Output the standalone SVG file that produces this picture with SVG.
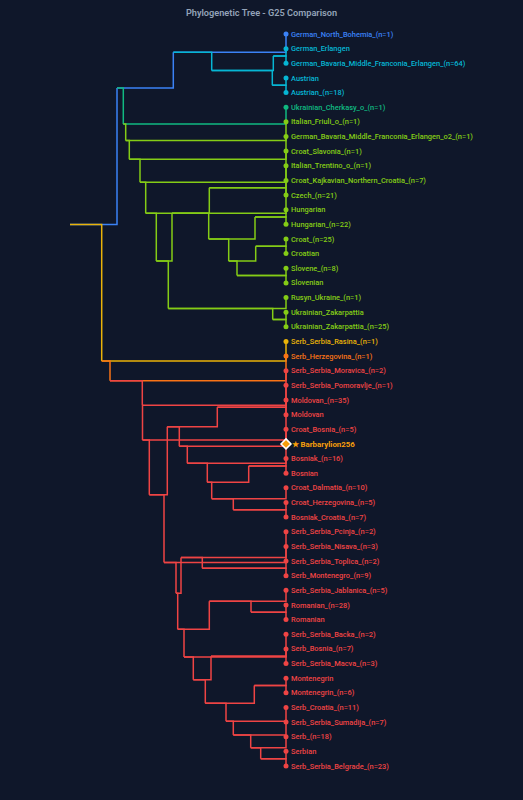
<svg xmlns="http://www.w3.org/2000/svg" width="523" height="800" viewBox="0 0 523 800">
<style>
.bg{fill:#0f172a}
.title{font-family:Roboto,"Liberation Sans",sans-serif;font-size:9.2px;font-weight:600;fill:#94a3b8}
.links path{fill:none;stroke-width:1.5}
.lb{stroke:#3b82f6}.lc{stroke:#06b6d4}.lt{stroke:#10b981}.lg{stroke:#84cc16}.ly{stroke:#eab308}.lo{stroke:#f97316}.lr{stroke:#ef4444}
.leaf text{font-family:Roboto,"Liberation Sans",sans-serif;font-size:7.45px;font-weight:500}
.cb{fill:#3b82f6}.cc{fill:#06b6d4}.ct{fill:#10b981}.cg{fill:#84cc16}.cy{fill:#eab308}.co{fill:#f97316}.cr{fill:#ef4444}
.me text{font-family:Roboto,"Liberation Sans",sans-serif;font-size:7.9px;font-weight:700;fill:#f59e0b}
</style>
<rect class="bg" x="0" y="0" width="523" height="800"/>
<text class="title" x="261.5" y="16" text-anchor="middle">Phylogenetic Tree - G25 Comparison</text>
<g id="connectors" class="links">
<path class="lb" d="M70,224.59 H117 V88.1"/>
<path class="lb" d="M117,88.1 H173.3 V52.3"/>
<path class="lb" d="M173.3,52.3 H286 V34"/>
<path class="lc" d="M173.3,52.3 H211.7 V70.6"/>
<path class="lc" d="M211.7,70.6 H273.3 V55.96"/>
<path class="lc" d="M211.7,70.6 H272.3 V85.24"/>
<path class="lc" d="M273.3,55.96 H286 V48.64"/>
<path class="lc" d="M273.3,55.96 H286 V63.28"/>
<path class="lc" d="M272.3,85.24 H286 V77.92"/>
<path class="lc" d="M272.3,85.24 H286 V92.56"/>
<path class="lt" d="M117,88.1 H123.3 V123.9"/>
<path class="lt" d="M123.3,123.9 H286 V107.2"/>
<path class="lg" d="M123.3,123.9 H125.7 V140.6"/>
<path class="lg" d="M125.7,140.6 H286 V121.84"/>
<path class="lg" d="M125.7,140.6 H129.3 V159.36"/>
<path class="lg" d="M129.3,159.36 H286 V136.48"/>
<path class="lg" d="M129.3,159.36 H140 V182.23"/>
<path class="lg" d="M140,182.23 H286 V151.12"/>
<path class="lg" d="M140,182.23 H145.7 V213.34"/>
<path class="lg" d="M145.7,213.34 H286 V165.76"/>
<path class="lg" d="M145.7,213.34 H156.3 V260.92"/>
<path class="lg" d="M156.3,260.92 H172 V213.34"/>
<path class="lg" d="M156.3,260.92 H168.3 V308.5"/>
<path class="lg" d="M172,213.34 H209.3 V187.72"/>
<path class="lg" d="M172,213.34 H208.7 V238.96"/>
<path class="lg" d="M209.3,187.72 H286 V180.4"/>
<path class="lg" d="M209.3,187.72 H286 V195.04"/>
<path class="lg" d="M208.7,238.96 H255 V217"/>
<path class="lg" d="M208.7,238.96 H228.7 V260.92"/>
<path class="lg" d="M255,217 H286 V209.68"/>
<path class="lg" d="M255,217 H286 V224.32"/>
<path class="lg" d="M228.7,260.92 H255.7 V246.28"/>
<path class="lg" d="M228.7,260.92 H237 V275.56"/>
<path class="lg" d="M255.7,246.28 H286 V238.96"/>
<path class="lg" d="M255.7,246.28 H286 V253.6"/>
<path class="lg" d="M237,275.56 H286 V268.24"/>
<path class="lg" d="M237,275.56 H286 V282.88"/>
<path class="lg" d="M168.3,308.5 H286 V297.52"/>
<path class="lg" d="M168.3,308.5 H272.7 V319.48"/>
<path class="lg" d="M272.7,319.48 H286 V312.16"/>
<path class="lg" d="M272.7,319.48 H286 V326.8"/>
<path class="ly" d="M70,224.59 H101.7 V361.08"/>
<path class="ly" d="M101.7,361.08 H286 V341.44"/>
<path class="lo" d="M101.7,361.08 H110 V380.72"/>
<path class="lo" d="M110,380.72 H286 V356.08"/>
<path class="lr" d="M110,380.72 H142.3 V405.36"/>
<path class="lr" d="M142.3,405.36 H286 V370.72"/>
<path class="lr" d="M142.3,405.36 H142.5 V440"/>
<path class="lr" d="M142.5,440 H286 V385.36"/>
<path class="lr" d="M142.5,440 H149.3 V494.64"/>
<path class="lr" d="M149.3,494.64 H167.3 V426.77"/>
<path class="lr" d="M149.3,494.64 H164 V562.51"/>
<path class="lr" d="M167.3,426.77 H217.3 V407.32"/>
<path class="lr" d="M217.3,407.32 H286 V400"/>
<path class="lr" d="M217.3,407.32 H286 V414.64"/>
<path class="lr" d="M167.3,426.77 H179.3 V446.21"/>
<path class="lr" d="M179.3,446.21 H286 V429.28"/>
<path class="lr" d="M179.3,446.21 H187.3 V463.14"/>
<path class="lr" d="M187.3,463.14 H286 V443.92"/>
<path class="lr" d="M187.3,463.14 H207.3 V482.35"/>
<path class="lr" d="M207.3,482.35 H248.7 V465.88"/>
<path class="lr" d="M248.7,465.88 H286 V458.56"/>
<path class="lr" d="M248.7,465.88 H286 V473.2"/>
<path class="lr" d="M207.3,482.35 H211.7 V498.82"/>
<path class="lr" d="M211.7,498.82 H286 V487.84"/>
<path class="lr" d="M211.7,498.82 H233.3 V509.8"/>
<path class="lr" d="M233.3,509.8 H286 V502.48"/>
<path class="lr" d="M233.3,509.8 H286 V517.12"/>
<path class="lr" d="M164,562.51 H286 V531.76"/>
<path class="lr" d="M164,562.51 H176 V593.27"/>
<path class="lr" d="M176,593.27 H181 V557.38"/>
<path class="lr" d="M176,593.27 H177.7 V629.15"/>
<path class="lr" d="M181,557.38 H286 V546.4"/>
<path class="lr" d="M181,557.38 H202.3 V568.36"/>
<path class="lr" d="M202.3,568.36 H286 V561.04"/>
<path class="lr" d="M202.3,568.36 H286 V575.68"/>
<path class="lr" d="M177.7,629.15 H209.3 V601.3"/>
<path class="lr" d="M177.7,629.15 H184 V657"/>
<path class="lr" d="M209.3,601.3 H286 V590.32"/>
<path class="lr" d="M209.3,601.3 H251 V612.28"/>
<path class="lr" d="M251,612.28 H286 V604.96"/>
<path class="lr" d="M251,612.28 H286 V619.6"/>
<path class="lr" d="M184,657 H286 V634.24"/>
<path class="lr" d="M184,657 H193.3 V679.76"/>
<path class="lr" d="M193.3,679.76 H211 V656.2"/>
<path class="lr" d="M193.3,679.76 H205.3 V703.32"/>
<path class="lr" d="M211,656.2 H286 V648.88"/>
<path class="lr" d="M211,656.2 H286 V663.52"/>
<path class="lr" d="M205.3,703.32 H254.3 V685.48"/>
<path class="lr" d="M205.3,703.32 H226 V721.17"/>
<path class="lr" d="M254.3,685.48 H286 V678.16"/>
<path class="lr" d="M254.3,685.48 H286 V692.8"/>
<path class="lr" d="M226,721.17 H286 V707.44"/>
<path class="lr" d="M226,721.17 H233.3 V734.89"/>
<path class="lr" d="M233.3,734.89 H286 V722.08"/>
<path class="lr" d="M233.3,734.89 H250.7 V747.7"/>
<path class="lr" d="M250.7,747.7 H286 V736.72"/>
<path class="lr" d="M250.7,747.7 H260.7 V758.68"/>
<path class="lr" d="M260.7,758.68 H286 V751.36"/>
<path class="lr" d="M260.7,758.68 H286 V766"/>
</g>
<g id="leaves">
<g id="n01" class="leaf cb"><circle cx="286" cy="34" r="2.5"/><text x="291" y="34" dy="0.35em">German_North_Bohemia_(n=1)</text></g>
<g id="n02" class="leaf cc"><circle cx="286" cy="48.64" r="2.5"/><text x="291" y="48.64" dy="0.35em">German_Erlangen</text></g>
<g id="n03" class="leaf cc"><circle cx="286" cy="63.28" r="2.5"/><text x="291" y="63.28" dy="0.35em">German_Bavaria_Middle_Franconia_Erlangen_(n=64)</text></g>
<g id="n04" class="leaf cc"><circle cx="286" cy="77.92" r="2.5"/><text x="291" y="77.92" dy="0.35em">Austrian</text></g>
<g id="n05" class="leaf cc"><circle cx="286" cy="92.56" r="2.5"/><text x="291" y="92.56" dy="0.35em">Austrian_(n=18)</text></g>
<g id="n06" class="leaf ct"><circle cx="286" cy="107.2" r="2.5"/><text x="291" y="107.2" dy="0.35em">Ukrainian_Cherkasy_o_(n=1)</text></g>
<g id="n07" class="leaf cg"><circle cx="286" cy="121.84" r="2.5"/><text x="291" y="121.84" dy="0.35em">Italian_Friuli_o_(n=1)</text></g>
<g id="n08" class="leaf cg"><circle cx="286" cy="136.48" r="2.5"/><text x="291" y="136.48" dy="0.35em">German_Bavaria_Middle_Franconia_Erlangen_o2_(n=1)</text></g>
<g id="n09" class="leaf cg"><circle cx="286" cy="151.12" r="2.5"/><text x="291" y="151.12" dy="0.35em">Croat_Slavonia_(n=1)</text></g>
<g id="n10" class="leaf cg"><circle cx="286" cy="165.76" r="2.5"/><text x="291" y="165.76" dy="0.35em">Italian_Trentino_o_(n=1)</text></g>
<g id="n11" class="leaf cg"><circle cx="286" cy="180.4" r="2.5"/><text x="291" y="180.4" dy="0.35em">Croat_Kajkavian_Northern_Croatia_(n=7)</text></g>
<g id="n12" class="leaf cg"><circle cx="286" cy="195.04" r="2.5"/><text x="291" y="195.04" dy="0.35em">Czech_(n=21)</text></g>
<g id="n13" class="leaf cg"><circle cx="286" cy="209.68" r="2.5"/><text x="291" y="209.68" dy="0.35em">Hungarian</text></g>
<g id="n14" class="leaf cg"><circle cx="286" cy="224.32" r="2.5"/><text x="291" y="224.32" dy="0.35em">Hungarian_(n=22)</text></g>
<g id="n15" class="leaf cg"><circle cx="286" cy="238.96" r="2.5"/><text x="291" y="238.96" dy="0.35em">Croat_(n=25)</text></g>
<g id="n16" class="leaf cg"><circle cx="286" cy="253.6" r="2.5"/><text x="291" y="253.6" dy="0.35em">Croatian</text></g>
<g id="n17" class="leaf cg"><circle cx="286" cy="268.24" r="2.5"/><text x="291" y="268.24" dy="0.35em">Slovene_(n=8)</text></g>
<g id="n18" class="leaf cg"><circle cx="286" cy="282.88" r="2.5"/><text x="291" y="282.88" dy="0.35em">Slovenian</text></g>
<g id="n19" class="leaf cg"><circle cx="286" cy="297.52" r="2.5"/><text x="291" y="297.52" dy="0.35em">Rusyn_Ukraine_(n=1)</text></g>
<g id="n20" class="leaf cg"><circle cx="286" cy="312.16" r="2.5"/><text x="291" y="312.16" dy="0.35em">Ukrainian_Zakarpattia</text></g>
<g id="n21" class="leaf cg"><circle cx="286" cy="326.8" r="2.5"/><text x="291" y="326.8" dy="0.35em">Ukrainian_Zakarpattia_(n=25)</text></g>
<g id="n22" class="leaf cy"><circle cx="286" cy="341.44" r="2.5"/><text x="291" y="341.44" dy="0.35em">Serb_Serbia_Rasina_(n=1)</text></g>
<g id="n23" class="leaf co"><circle cx="286" cy="356.08" r="2.5"/><text x="291" y="356.08" dy="0.35em">Serb_Herzegovina_(n=1)</text></g>
<g id="n24" class="leaf cr"><circle cx="286" cy="370.72" r="2.5"/><text x="291" y="370.72" dy="0.35em">Serb_Serbia_Moravica_(n=2)</text></g>
<g id="n25" class="leaf cr"><circle cx="286" cy="385.36" r="2.5"/><text x="291" y="385.36" dy="0.35em">Serb_Serbia_Pomoravlje_(n=1)</text></g>
<g id="n26" class="leaf cr"><circle cx="286" cy="400" r="2.5"/><text x="291" y="400" dy="0.35em">Moldovan_(n=35)</text></g>
<g id="n27" class="leaf cr"><circle cx="286" cy="414.64" r="2.5"/><text x="291" y="414.64" dy="0.35em">Moldovan</text></g>
<g id="n28" class="leaf cr"><circle cx="286" cy="429.28" r="2.5"/><text x="291" y="429.28" dy="0.35em">Croat_Bosnia_(n=5)</text></g>
<g id="n29" class="leaf me"><path d="M286,438.9 L291,443.92 L286,448.9 L281,443.92 Z" fill="#f59e0b" stroke="#ffffff" stroke-width="1.5"/><text x="291.5" y="443.92" dy="0.35em">★ Barbarylion256</text></g>
<g id="n30" class="leaf cr"><circle cx="286" cy="458.56" r="2.5"/><text x="291" y="458.56" dy="0.35em">Bosniak_(n=16)</text></g>
<g id="n31" class="leaf cr"><circle cx="286" cy="473.2" r="2.5"/><text x="291" y="473.2" dy="0.35em">Bosnian</text></g>
<g id="n32" class="leaf cr"><circle cx="286" cy="487.84" r="2.5"/><text x="291" y="487.84" dy="0.35em">Croat_Dalmatia_(n=10)</text></g>
<g id="n33" class="leaf cr"><circle cx="286" cy="502.48" r="2.5"/><text x="291" y="502.48" dy="0.35em">Croat_Herzegovina_(n=5)</text></g>
<g id="n34" class="leaf cr"><circle cx="286" cy="517.12" r="2.5"/><text x="291" y="517.12" dy="0.35em">Bosniak_Croatia_(n=7)</text></g>
<g id="n35" class="leaf cr"><circle cx="286" cy="531.76" r="2.5"/><text x="291" y="531.76" dy="0.35em">Serb_Serbia_Pcinja_(n=2)</text></g>
<g id="n36" class="leaf cr"><circle cx="286" cy="546.4" r="2.5"/><text x="291" y="546.4" dy="0.35em">Serb_Serbia_Nisava_(n=3)</text></g>
<g id="n37" class="leaf cr"><circle cx="286" cy="561.04" r="2.5"/><text x="291" y="561.04" dy="0.35em">Serb_Serbia_Toplica_(n=2)</text></g>
<g id="n38" class="leaf cr"><circle cx="286" cy="575.68" r="2.5"/><text x="291" y="575.68" dy="0.35em">Serb_Montenegro_(n=9)</text></g>
<g id="n39" class="leaf cr"><circle cx="286" cy="590.32" r="2.5"/><text x="291" y="590.32" dy="0.35em">Serb_Serbia_Jablanica_(n=5)</text></g>
<g id="n40" class="leaf cr"><circle cx="286" cy="604.96" r="2.5"/><text x="291" y="604.96" dy="0.35em">Romanian_(n=28)</text></g>
<g id="n41" class="leaf cr"><circle cx="286" cy="619.6" r="2.5"/><text x="291" y="619.6" dy="0.35em">Romanian</text></g>
<g id="n42" class="leaf cr"><circle cx="286" cy="634.24" r="2.5"/><text x="291" y="634.24" dy="0.35em">Serb_Serbia_Backa_(n=2)</text></g>
<g id="n43" class="leaf cr"><circle cx="286" cy="648.88" r="2.5"/><text x="291" y="648.88" dy="0.35em">Serb_Bosnia_(n=7)</text></g>
<g id="n44" class="leaf cr"><circle cx="286" cy="663.52" r="2.5"/><text x="291" y="663.52" dy="0.35em">Serb_Serbia_Macva_(n=3)</text></g>
<g id="n45" class="leaf cr"><circle cx="286" cy="678.16" r="2.5"/><text x="291" y="678.16" dy="0.35em">Montenegrin</text></g>
<g id="n46" class="leaf cr"><circle cx="286" cy="692.8" r="2.5"/><text x="291" y="692.8" dy="0.35em">Montenegrin_(n=6)</text></g>
<g id="n47" class="leaf cr"><circle cx="286" cy="707.44" r="2.5"/><text x="291" y="707.44" dy="0.35em">Serb_Croatia_(n=11)</text></g>
<g id="n48" class="leaf cr"><circle cx="286" cy="722.08" r="2.5"/><text x="291" y="722.08" dy="0.35em">Serb_Serbia_Sumadija_(n=7)</text></g>
<g id="n49" class="leaf cr"><circle cx="286" cy="736.72" r="2.5"/><text x="291" y="736.72" dy="0.35em">Serb_(n=18)</text></g>
<g id="n50" class="leaf cr"><circle cx="286" cy="751.36" r="2.5"/><text x="291" y="751.36" dy="0.35em">Serbian</text></g>
<g id="n51" class="leaf cr"><circle cx="286" cy="766" r="2.5"/><text x="291" y="766" dy="0.35em">Serb_Serbia_Belgrade_(n=23)</text></g>
</g>
</svg>
